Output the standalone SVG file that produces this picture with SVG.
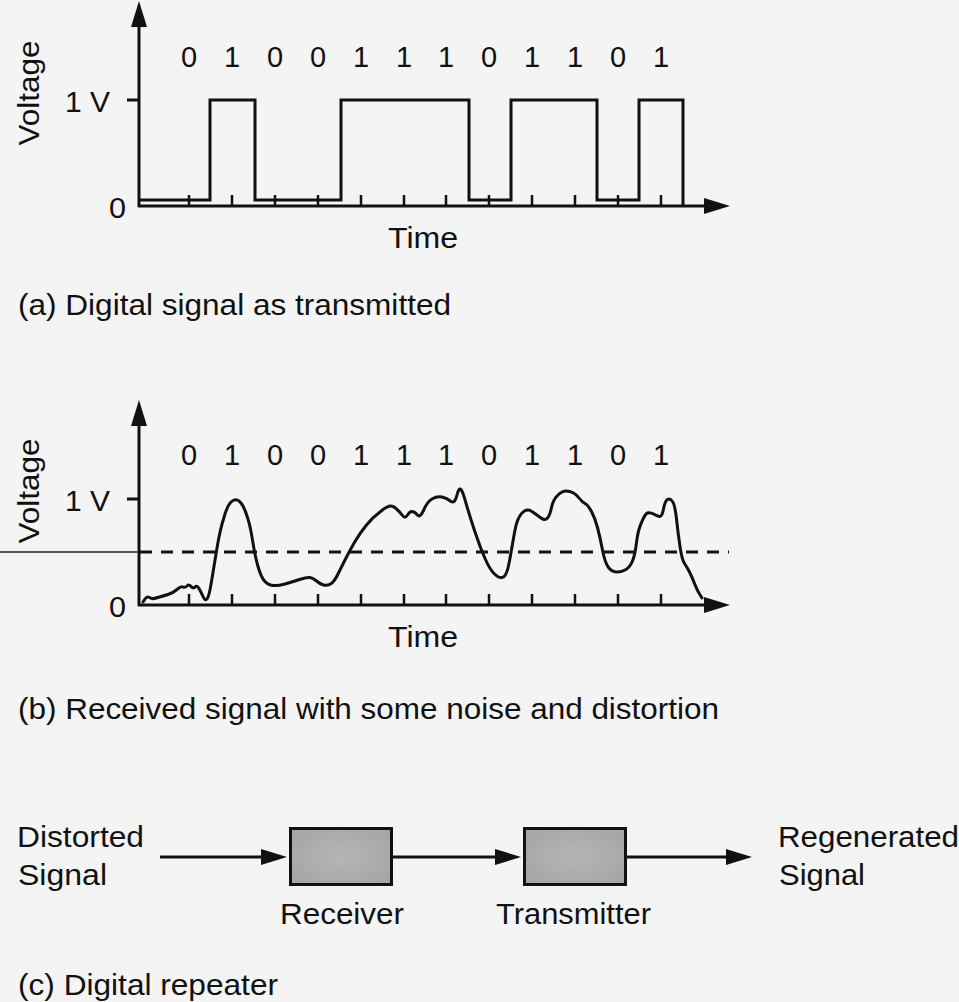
<svg xmlns="http://www.w3.org/2000/svg" width="959" height="1002" viewBox="0 0 959 1002">
<style>
.bg{fill:#f4f4f4}
.ax{stroke:#111;stroke-width:3;fill:none}
.sig{stroke:#111;stroke-width:3;fill:none;stroke-linejoin:miter}
.noise{stroke:#111;stroke-width:3;fill:none;stroke-linejoin:round;stroke-linecap:round}
.tick{stroke:#111;stroke-width:2.5}
.dash{stroke:#111;stroke-width:3;stroke-dasharray:12 9}
.thin{stroke:#222;stroke-width:1.5}
text{font-family:"Liberation Sans",Arial,Helvetica,sans-serif;fill:#111;font-size:29px}
.dig{font-size:29px;text-anchor:middle}
.box{stroke:#111;stroke-width:3;fill:url(#boxfill)}
</style>
<defs>
<marker id="ah" markerUnits="userSpaceOnUse" markerWidth="26" markerHeight="16" refX="16" refY="8" orient="auto">
<path d="M0,0 L26,8 L0,16 z" fill="#111"/>
</marker>
<radialGradient id="boxfill" cx="50%" cy="50%" r="60%">
<stop offset="0" stop-color="#b5b5b5"/>
<stop offset="1" stop-color="#a6a6a6"/>
</radialGradient>
</defs>
<rect class="bg" x="0" y="0" width="959" height="1002"/>

<g id="panel-a">
<line class="ax" x1="139" y1="207" x2="139" y2="11" marker-end="url(#ah)"/>
<line class="ax" x1="138" y1="206" x2="720" y2="206" marker-end="url(#ah)"/>
<line class="ax" x1="127" y1="100" x2="139" y2="100"/>
<g class="tick">
<line x1="189" y1="195" x2="189" y2="206"/><line x1="232" y1="195" x2="232" y2="206"/><line x1="275" y1="195" x2="275" y2="206"/><line x1="318" y1="195" x2="318" y2="206"/><line x1="361" y1="195" x2="361" y2="206"/><line x1="404" y1="195" x2="404" y2="206"/><line x1="446" y1="195" x2="446" y2="206"/><line x1="489" y1="195" x2="489" y2="206"/><line x1="532" y1="195" x2="532" y2="206"/><line x1="575" y1="195" x2="575" y2="206"/><line x1="618" y1="195" x2="618" y2="206"/><line x1="661" y1="195" x2="661" y2="206"/>
</g>
<path class="sig" d="M139,200 H210 V100 H255 V200 H341 V100 H469 V200 H511 V100 H597 V200 H639 V100 H683 V206"/>
<g>
<text class="dig" x="189" y="67">0</text><text class="dig" x="232" y="67">1</text><text class="dig" x="275" y="67">0</text><text class="dig" x="318" y="67">0</text><text class="dig" x="361" y="67">1</text><text class="dig" x="404" y="67">1</text><text class="dig" x="446" y="67">1</text><text class="dig" x="489" y="67">0</text><text class="dig" x="532" y="67">1</text><text class="dig" x="575" y="67">1</text><text class="dig" x="618" y="67">0</text><text class="dig" x="661" y="67">1</text>
</g>
<text transform="translate(39,93) rotate(-90)" text-anchor="middle" textLength="105" lengthAdjust="spacingAndGlyphs">Voltage</text>
<text x="65" y="112" textLength="45" lengthAdjust="spacingAndGlyphs">1 V</text>
<text x="109" y="218" textLength="17" lengthAdjust="spacingAndGlyphs">0</text>
<text x="388" y="248" textLength="70" lengthAdjust="spacingAndGlyphs">Time</text>
<text x="18" y="315" textLength="433" lengthAdjust="spacingAndGlyphs">(a) Digital signal as transmitted</text>
</g>

<g id="panel-b">
<line class="thin" x1="0" y1="552" x2="139" y2="552"/>
<line class="dash" x1="140" y1="552" x2="729" y2="552"/>
<line class="ax" x1="139" y1="606" x2="139" y2="410" marker-end="url(#ah)"/>
<line class="ax" x1="138" y1="605" x2="720" y2="605" marker-end="url(#ah)"/>
<line class="ax" x1="127" y1="499" x2="139" y2="499"/>
<g class="tick">
<line x1="189" y1="594" x2="189" y2="605"/><line x1="232" y1="594" x2="232" y2="605"/><line x1="275" y1="594" x2="275" y2="605"/><line x1="318" y1="594" x2="318" y2="605"/><line x1="361" y1="594" x2="361" y2="605"/><line x1="404" y1="594" x2="404" y2="605"/><line x1="446" y1="594" x2="446" y2="605"/><line x1="489" y1="594" x2="489" y2="605"/><line x1="532" y1="594" x2="532" y2="605"/><line x1="575" y1="594" x2="575" y2="605"/><line x1="618" y1="594" x2="618" y2="605"/><line x1="661" y1="594" x2="661" y2="605"/>
</g>
<path class="noise" d="M143,602 L145,599 Q147,596 149.5,597.5 Q152,599 154,598.5 Q156,598 159.5,597 Q163,596 168,594.5 Q173,593 177,589.5 Q181,586 183,587 Q185,588 187,586 Q189,584 191,586.5 Q193,589 195,587 Q197,585 199,588.5 Q201,592 203,596.5 Q205,601 207,599 Q209,597 211.5,581.5 Q214,566 217,548 Q220,530 223.5,519 Q227,506 231,502 Q235,498 239,501 Q243,504 246.5,514.5 Q250,524 252.5,540 Q255,556 258,566.5 Q261,577 264.5,581 Q268,585 273,585.5 Q278,586 285,584 Q292,582 299.5,579.5 Q307,577 310,577.5 Q313,578 316.5,581 Q320,584 323.5,585 Q327,586 330.5,584 Q334,582 337.5,575 Q341,568 345.5,559 Q350,550 355,541.5 Q360,533 366.5,525 Q373,517 380,512 Q387,506 390.5,506 Q394,506 397,509.5 Q400,512 402.5,515.5 Q405,519 407.5,515 Q410,511 412.5,511.5 Q415,512 417.5,515 Q420,518 423.5,510.5 Q427,502 432,499 Q437,496 442,497 Q447,498 451,501.5 Q455,504 457,495 Q459,487 461,489.5 Q463,492 466.5,505 Q470,517 475,532 Q480,547 485,558.5 Q490,570 495,574.5 Q500,579 503.5,577 Q507,575 509.5,561 Q512,547 514.5,532.5 Q517,518 522,513 Q527,508 532,511.5 Q537,515 541,518 Q545,521 547.5,518 Q550,515 551.5,507.5 Q553,500 557.5,495.5 Q562,491 566,491 Q570,491 573.5,493 Q577,495 579.5,498.5 Q582,502 585,503.5 Q588,505 591.5,511.5 Q595,518 597.5,527.5 Q600,537 602.5,550 Q605,563 608.5,567.5 Q612,572 617,572 Q622,572 626,569.5 Q630,567 632.5,561 Q635,555 636.5,542.5 Q638,530 641.5,522.5 Q645,514 647.5,513 Q650,512 653.5,514 Q657,516 659.5,516.5 Q662,517 663.5,509 Q665,501 667.5,499.5 Q670,498 672.5,501.5 Q675,505 676.5,519 Q678,533 680,546.5 Q682,560 684.5,563.5 Q687,567 689.5,572 Q692,577 694.5,583.5 Q697,590 699.5,594 L702,598"/>
<g>
<text class="dig" x="189" y="465">0</text><text class="dig" x="232" y="465">1</text><text class="dig" x="275" y="465">0</text><text class="dig" x="318" y="465">0</text><text class="dig" x="361" y="465">1</text><text class="dig" x="404" y="465">1</text><text class="dig" x="446" y="465">1</text><text class="dig" x="489" y="465">0</text><text class="dig" x="532" y="465">1</text><text class="dig" x="575" y="465">1</text><text class="dig" x="618" y="465">0</text><text class="dig" x="661" y="465">1</text>
</g>
<text transform="translate(39,491) rotate(-90)" text-anchor="middle" textLength="105" lengthAdjust="spacingAndGlyphs">Voltage</text>
<text x="65" y="511" textLength="45" lengthAdjust="spacingAndGlyphs">1 V</text>
<text x="109" y="617" textLength="17" lengthAdjust="spacingAndGlyphs">0</text>
<text x="388" y="647" textLength="70" lengthAdjust="spacingAndGlyphs">Time</text>
<text x="18" y="719" textLength="701" lengthAdjust="spacingAndGlyphs">(b) Received signal with some noise and distortion</text>
</g>

<g id="panel-c">
<g id="connectors">
<line class="ax" x1="160" y1="857" x2="277" y2="857" marker-end="url(#ah)"/>
<line class="ax" x1="393" y1="857" x2="511" y2="857" marker-end="url(#ah)"/>
<line class="ax" x1="627" y1="857" x2="742" y2="857" marker-end="url(#ah)"/>
</g>
<g id="receiver">
<rect class="box" x="290.5" y="828.5" width="101" height="56"/>
<text x="280" y="924" textLength="124" lengthAdjust="spacingAndGlyphs">Receiver</text>
</g>
<g id="transmitter">
<rect class="box" x="524.5" y="828.5" width="101" height="56"/>
<text x="496" y="924" textLength="155" lengthAdjust="spacingAndGlyphs">Transmitter</text>
</g>
<g id="input-label">
<text x="17" y="847" textLength="127" lengthAdjust="spacingAndGlyphs">Distorted</text>
<text x="18" y="885" textLength="89" lengthAdjust="spacingAndGlyphs">Signal</text>
</g>
<g id="output-label">
<text x="778" y="847" textLength="181" lengthAdjust="spacingAndGlyphs">Regenerated</text>
<text x="779" y="885" textLength="86" lengthAdjust="spacingAndGlyphs">Signal</text>
</g>
<text x="18" y="995" textLength="260" lengthAdjust="spacingAndGlyphs">(c) Digital repeater</text>
</g>
</svg>
